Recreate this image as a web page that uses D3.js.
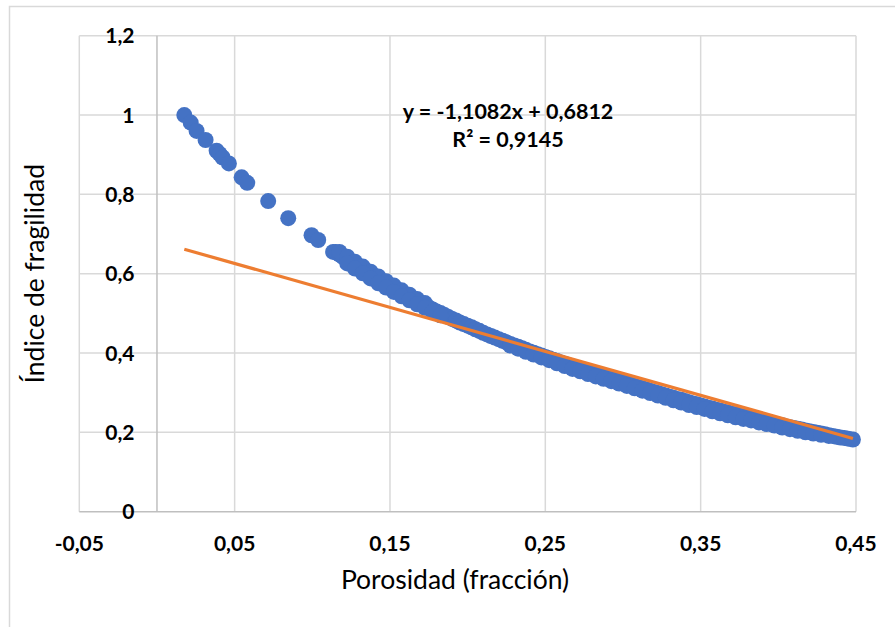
<!DOCTYPE html>
<html lang="es">
<head>
<meta charset="utf-8">
<title>Índice de fragilidad vs porosidad</title>
<script src="https://cdn.jsdelivr.net/npm/d3@7"></script>
<style>
  html, body { margin: 0; padding: 0; background: #ffffff; }
  svg { display: block; }
  text { font-family: Lato, "Open Sans", sans-serif; fill: #000; }
</style>
</head>
<body>
<svg id="chart" width="895" height="627"></svg>
<script>
// Sparse measured points (low porosity)
const sparsePorosity = [0.0176, 0.0217, 0.0255, 0.0313, 0.0384, 0.0403, 0.0423, 0.0463, 0.0545, 0.0581, 0.0716, 0.0845, 0.0995, 0.1038, 0.1134];
const sparseIndex    = [1.000, 0.981, 0.960, 0.937, 0.910, 0.902, 0.893, 0.878, 0.843, 0.829, 0.783, 0.740, 0.697, 0.685, 0.655];

// Dense measured points (main band)
const bandPorosity = [
  0.115, 0.1175, 0.120, 0.1225, 0.125, 0.1275, 0.130, 0.1325, 0.135, 0.1375,
  0.140, 0.1425, 0.145, 0.1475, 0.150, 0.1525, 0.155, 0.1575, 0.160, 0.1625,
  0.165, 0.1675, 0.170, 0.1725, 0.175, 0.1775, 0.180, 0.1825, 0.185, 0.1875,
  0.190, 0.1925, 0.195, 0.1975, 0.200, 0.2025, 0.205, 0.2075, 0.210, 0.2125,
  0.215, 0.2175, 0.220, 0.2225, 0.225, 0.2275, 0.230, 0.2325, 0.235, 0.2375,
  0.240, 0.2425, 0.245, 0.2475, 0.250, 0.2525, 0.255, 0.2575, 0.260, 0.2625,
  0.265, 0.2675, 0.270, 0.2725, 0.275, 0.2775, 0.280, 0.2825, 0.285, 0.2875,
  0.290, 0.2925, 0.295, 0.2975, 0.300, 0.3025, 0.305, 0.3075, 0.310, 0.3125,
  0.315, 0.3175, 0.320, 0.3225, 0.325, 0.3275, 0.330, 0.3325, 0.335, 0.3375,
  0.340, 0.3425, 0.345, 0.3475, 0.350, 0.3525, 0.355, 0.3575, 0.360, 0.3625,
  0.365, 0.3675, 0.370, 0.3725, 0.375, 0.3775, 0.380, 0.3825, 0.385, 0.3875,
  0.390, 0.3925, 0.395, 0.3975, 0.400, 0.4025, 0.405, 0.4075, 0.410, 0.4125,
  0.415, 0.4175, 0.420, 0.4225, 0.425, 0.4275, 0.430, 0.4325, 0.435, 0.4375,
  0.440, 0.4425, 0.445, 0.448];
const bandIndex = [
  0.655, 0.648, 0.641, 0.635, 0.628, 0.622, 0.615, 0.609, 0.603, 0.597,
  0.590, 0.584, 0.578, 0.573, 0.567, 0.562, 0.556, 0.551, 0.545, 0.540,
  0.535, 0.530, 0.525, 0.520, 0.515, 0.510, 0.505, 0.501, 0.496, 0.491,
  0.486, 0.482, 0.477, 0.473, 0.469, 0.465, 0.460, 0.456, 0.451, 0.447,
  0.443, 0.439, 0.435, 0.431, 0.427, 0.423, 0.419, 0.416, 0.412, 0.408,
  0.404, 0.401, 0.397, 0.394, 0.390, 0.387, 0.383, 0.380, 0.376, 0.373,
  0.369, 0.366, 0.363, 0.360, 0.356, 0.353, 0.350, 0.347, 0.344, 0.341,
  0.338, 0.335, 0.332, 0.329, 0.326, 0.323, 0.320, 0.317, 0.314, 0.311,
  0.308, 0.305, 0.302, 0.299, 0.296, 0.293, 0.290, 0.287, 0.284, 0.282,
  0.279, 0.276, 0.273, 0.271, 0.268, 0.265, 0.262, 0.260, 0.257, 0.255,
  0.252, 0.250, 0.247, 0.245, 0.242, 0.240, 0.238, 0.236, 0.233, 0.231,
  0.228, 0.226, 0.224, 0.222, 0.220, 0.218, 0.215, 0.213, 0.211, 0.209,
  0.207, 0.205, 0.203, 0.201, 0.199, 0.197, 0.195, 0.193, 0.191, 0.189,
  0.187, 0.186, 0.184, 0.182];

// Upper edge of the cloud where it widens (around 0.12 - 0.17)
const upperRowPorosity = [0.1175, 0.1225, 0.1275, 0.1325, 0.1375, 0.1425, 0.1475, 0.1525, 0.1575, 0.1625, 0.1675, 0.1725];
const upperRowIndex    = [0.655, 0.643, 0.630, 0.618, 0.605, 0.593, 0.581, 0.570, 0.558, 0.547, 0.536, 0.526];

// Lower edge of the cloud (around 0.12 - 0.18 and 0.23 - 0.43)
const lowerRowPorosity = [0.1225, 0.1275, 0.1325, 0.1375, 0.1425, 0.1475, 0.1525, 0.1575, 0.1625, 0.1675, 0.1725, 0.1775, 0.1825,
  0.2275, 0.2325, 0.2375, 0.2425, 0.2475, 0.2525, 0.2575, 0.2625, 0.2675, 0.2725, 0.2775, 0.2825, 0.2875,
  0.2925, 0.2975, 0.3025, 0.3075, 0.3125, 0.3175, 0.3225, 0.3275, 0.3325, 0.3375, 0.3425, 0.3475, 0.3525,
  0.3575, 0.3625, 0.3675, 0.3725, 0.3775, 0.3825, 0.3875, 0.3925, 0.3975, 0.4025, 0.4075, 0.4125, 0.4175,
  0.4225, 0.4275, 0.4325];
const lowerRowIndex    = [0.626, 0.613, 0.601, 0.588, 0.576, 0.565, 0.554, 0.543, 0.533, 0.523, 0.514, 0.504, 0.495,
  0.419, 0.411, 0.403, 0.396, 0.389, 0.382, 0.374, 0.367, 0.360, 0.354, 0.347, 0.341, 0.335,
  0.329, 0.323, 0.317, 0.311, 0.305, 0.299, 0.293, 0.287, 0.281, 0.275, 0.269, 0.264, 0.259,
  0.253, 0.248, 0.243, 0.238, 0.234, 0.230, 0.225, 0.221, 0.217, 0.212, 0.208, 0.204, 0.200,
  0.197, 0.194, 0.191];

// Linear trend fitted to the data
const trendSlope = -1.1082;
const trendIntercept = 0.6812;
const trendLabel = ["y = -1,1082x + 0,6812", "R² = 0,9145"];

// Axes
const xTicks = [-0.05, 0.05, 0.15, 0.25, 0.35, 0.45];
const xTickLabels = ["-0,05", "0,05", "0,15", "0,25", "0,35", "0,45"];
const yTicks = [0, 0.2, 0.4, 0.6, 0.8, 1, 1.2];
const yTickLabels = ["0", "0,2", "0,4", "0,6", "0,8", "1", "1,2"];
const xTitle = "Porosidad (fracción)";
const yTitle = "Índice de fragilidad";

const svg = d3.select("#chart");
const W = 895, H = 627;

const x = d3.scaleLinear().domain([-0.05, 0.45]).range([79.3, 856]);
const y = d3.scaleLinear().domain([0, 1.2]).range([511.7, 35.7]);

// Chart area frame
svg.append("path")
  .attr("d", `M9.5,${H} V6.5 H${W}`)
  .attr("fill", "none")
  .attr("stroke", "#d9d9d9")
  .attr("stroke-width", 1.5);

// Gridlines
const grid = svg.append("g");
grid.selectAll("line.v").data(xTicks).join("line")
  .attr("x1", d => x(d)).attr("x2", d => x(d))
  .attr("y1", y(1.2)).attr("y2", y(0))
  .attr("stroke", "#d9d9d9").attr("stroke-width", 1.5);
grid.selectAll("line.h").data(yTicks.filter(d => d > 0)).join("line")
  .attr("x1", x(-0.05)).attr("x2", x(0.45))
  .attr("y1", d => y(d)).attr("y2", d => y(d))
  .attr("stroke", "#d9d9d9").attr("stroke-width", 1.5);

// Axis lines
svg.append("line")
  .attr("x1", x(-0.05)).attr("x2", x(0.45))
  .attr("y1", y(0)).attr("y2", y(0))
  .attr("stroke", "#bfbfbf").attr("stroke-width", 1.5);
svg.append("line")
  .attr("x1", x(0)).attr("x2", x(0))
  .attr("y1", y(1.2)).attr("y2", y(0))
  .attr("stroke", "#bfbfbf").attr("stroke-width", 1.5);

// Scatter points
const pts = [];
sparsePorosity.forEach((p, i) => pts.push([p, sparseIndex[i]]));
bandPorosity.forEach((p, i) => pts.push([p, bandIndex[i]]));
upperRowPorosity.forEach((p, i) => pts.push([p, upperRowIndex[i]]));
lowerRowPorosity.forEach((p, i) => pts.push([p, lowerRowIndex[i]]));

svg.append("g").selectAll("circle").data(pts).join("circle")
  .attr("cx", d => x(d[0]))
  .attr("cy", d => y(d[1]))
  .attr("r", 8)
  .attr("fill", "#4472c4");

// Trend line across the data range
const allX = pts.map(d => d[0]);
const xMin = d3.min(allX), xMax = d3.max(allX);
svg.append("line")
  .attr("x1", x(xMin)).attr("y1", y(trendSlope * xMin + trendIntercept))
  .attr("x2", x(xMax)).attr("y2", y(trendSlope * xMax + trendIntercept))
  .attr("stroke", "#ed7d31")
  .attr("stroke-width", 3.2);

// Tick labels
svg.append("g").selectAll("text").data(xTicks).join("text")
  .attr("x", d => x(d))
  .attr("y", 550.5)
  .attr("text-anchor", "middle")
  .attr("font-size", 21)
  .attr("font-weight", "bold")
  .text((d, i) => xTickLabels[i]);

svg.append("g").selectAll("text").data(yTicks).join("text")
  .attr("x", 134.5)
  .attr("y", d => y(d) + 7.5)
  .attr("text-anchor", "end")
  .attr("font-size", 21)
  .attr("font-weight", "bold")
  .text((d, i) => yTickLabels[i]);

// Trend equation
svg.append("g").selectAll("text").data(trendLabel).join("text")
  .attr("x", 508)
  .attr("y", (d, i) => 118.5 + i * 28.5)
  .attr("text-anchor", "middle")
  .attr("font-size", 21.5)
  .attr("font-weight", "bold")
  .text(d => d);

// Axis titles
svg.append("text")
  .attr("x", 455)
  .attr("y", 589)
  .attr("text-anchor", "middle")
  .attr("font-size", 26.5)
  .text(xTitle);

svg.append("text")
  .attr("transform", `translate(44,${(y(0) + y(1.2)) / 2}) rotate(-90)`)
  .attr("text-anchor", "middle")
  .attr("font-size", 26.5)
  .text(yTitle);
</script>
</body>
</html>
